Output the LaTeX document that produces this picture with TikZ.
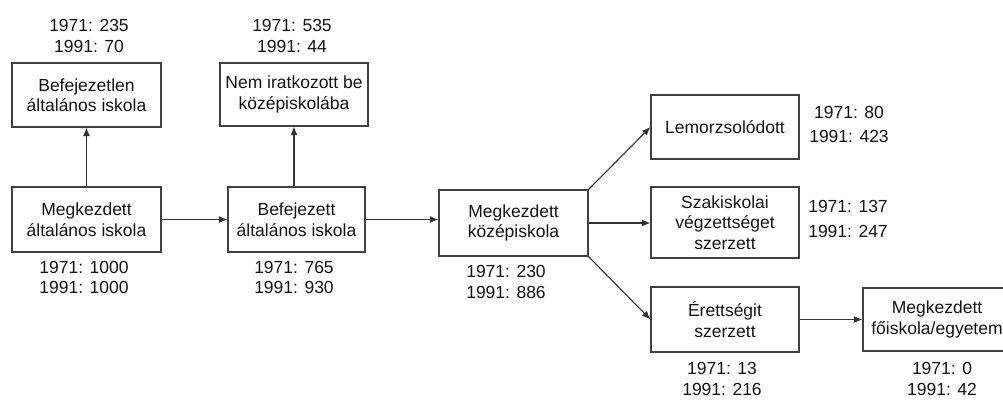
\documentclass[tikz,border=0pt]{standalone}
\usepackage{fontspec}
\setmainfont{Liberation Sans}
\usetikzlibrary{arrows.meta}
\begin{document}
\begin{tikzpicture}[x=1pt,y=-1pt,
  every node/.style={font=\fontsize{17.5}{20.5}\selectfont, text=black!92},
  box/.style={draw=black!75, line width=1.2pt, align=center, inner sep=0pt, minimum width=#1},
  box/.default=148pt,
  lbl/.style={align=center, inner sep=0pt, anchor=north},
  wide/.style={font=\fontsize{17.5}{24.5}\selectfont},
  conn/.style={draw=black!80, line width=1.1pt, -{Latex[length=8.5pt,width=7pt]}}
]
\clip (0,0) rectangle (1003,399);
\fill[white] (0,0) rectangle (1003,399);
% boxes
\node[box=149pt, minimum height=64pt] (A) at (86.5,95) {Befejezetlen\\általános iskola};
\node[box=148pt, minimum height=63pt] (B) at (294,94.5) {Nem iratkozott be\\középiskolába};
\node[box=149pt, minimum height=65pt] (C) at (86.5,219.5) {Megkezdett\\általános iskola};
\node[box=137pt, minimum height=65pt] (D) at (296.5,219.5) {Befejezett\\általános iskola};
\node[box=149pt, minimum height=66pt] (E) at (513.5,223) {Megkezdett\\középiskola};
\node[box=148pt, minimum height=64pt] (F) at (725,127) {Lemorzsolódott};
\node[box=148pt, minimum height=71pt] (G) at (725,222.5) {Szakiskolai\\végzettséget\\szerzett};
\node[box=148pt, minimum height=65pt] (H) at (725,319.5) {Érettségit\\szerzett};
\node[box=148pt, minimum height=63pt] (I) at (937,319.5) {Megkezdett\\főiskola/egyetem};
% labels
\node[lbl] (lA) at (89,19.5) {1971: 235\\1991: 70};
\node[lbl] (lB) at (292,19.5) {1971: 535\\1991: 44};
\node[lbl] (lC) at (84,261) {1971: 1000\\1991: 1000};
\node[lbl] (lD) at (294,261) {1971: 765\\1991: 930};
\node[lbl] (lE) at (506,265.5) {1971: 230\\1991: 886};
\node[lbl, wide] (lF) at (849,106) {1971: 80\\1991: 423};
\node[lbl, wide] (lG) at (848,200.5) {1971: 137\\1991: 247};
\node[lbl] (lH) at (722,362.5) {1971: 13\\1991: 216};
\node[lbl] (lI) at (942,362.5) {1971: 0\\1991: 42};
% connectors
\draw[conn] (C.north) -- (A.south);
\draw[conn] (B.south |- D.north) -- (B.south);
\draw[conn] (C.east) -- (D.west);
\draw[conn] (D.east) -- (D.east -| E.west);
\draw[conn] (E.north east) -- (F.west);
\draw[conn] (E.east) -- (E.east -| G.west);
\draw[conn] (E.south east) -- (H.west);
\draw[conn] (H.east) -- (I.west);
\end{tikzpicture}
\end{document}
